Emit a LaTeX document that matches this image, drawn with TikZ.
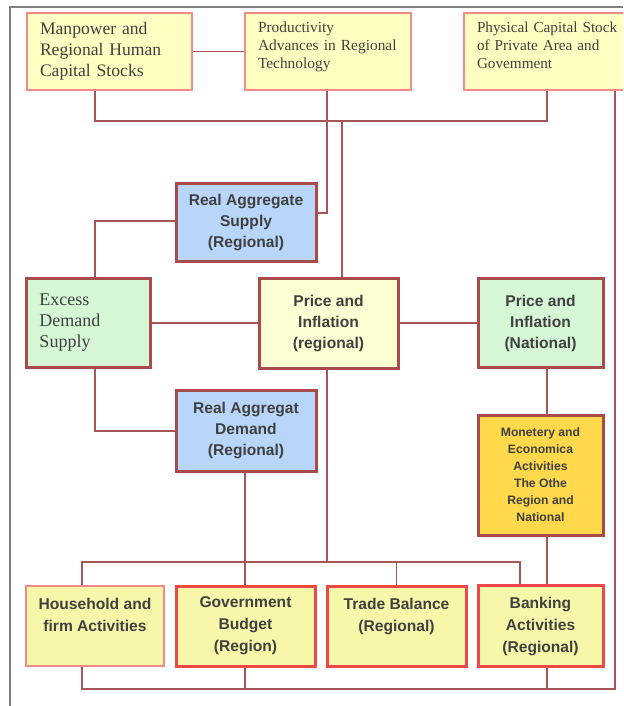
\documentclass[tikz,border=0pt]{standalone}
\usepackage{fontspec}
\setmainfont{Liberation Serif}
\setsansfont{Liberation Sans}
\usepackage{xcolor}
\usepackage{tikz}
\usetikzlibrary{calc}
\definecolor{edgegray}{HTML}{808080}
\definecolor{wire}{HTML}{A65656}
\definecolor{rim}{HTML}{A84B4B}
\definecolor{pinkrim}{HTML}{F28A8A}
\definecolor{redrim}{HTML}{F04848}
\definecolor{ink}{HTML}{404040}
\definecolor{paleyel}{HTML}{FFFFC2}
\definecolor{cream}{HTML}{FFFFD4}
\definecolor{skyblue}{HTML}{B8D6FA}
\definecolor{mint}{HTML}{D6F7D6}
\definecolor{gold}{HTML}{FFD84C}
\definecolor{lemon}{HTML}{F7F7AA}

\begin{document}
\begin{tikzpicture}[x=0.5pt,y=-0.5pt,
 src/.style={draw=pinkrim,line width=1pt,fill=paleyel,text=ink,align=left,inner xsep=6.5pt,inner ysep=0pt,minimum height=38.5pt},
 blk/.style={draw=rim,line width=1.5pt,text=ink,align=center,inner sep=0pt,font=\sffamily\bfseries\fontsize{7.8}{10.5}\selectfont},
 act/.style={draw=redrim,line width=1.5pt,fill=lemon,text=ink,align=center,inner sep=0pt,minimum width=69.5pt,minimum height=40pt,font=\sffamily\bfseries\fontsize{7.8}{11}\selectfont},
 w/.style={draw=wire,line width=0.7pt},
 border/.style={draw=edgegray,line width=0.8pt}]
 \useasboundingbox (0,0) rectangle (623,706);
 \clip (0,0) rectangle (623,706);
 \draw[border] (10,706) -- (10,7) -- (623,7);
 % sources
 \node[src,text width=69.5pt,font=\fontsize{8.8}{10.5}\selectfont] (man) at (109.5,51.5) {Manpower and\\Regional Human\\Capital Stocks};
 \node[src,text width=70pt,font=\fontsize{7.7}{9}\selectfont] (prod) at (328,51.5) {Productivity\\Advances in Regional\\Technology\\[-3pt]\mbox{}};
 \node[src,text width=75pt,font=\fontsize{7.6}{9}\selectfont] (phys) at (552,51.5) {Physical Capital Stock\\of Private Area and\\Govemment\\[-3pt]\mbox{}};
 % market
 \node[blk,fill=skyblue,minimum width=70pt,minimum height=39pt] (ras) at (246,222) {Real Aggregate\\Supply\\(Regional)};
 \node[src,draw=rim,line width=1.3pt,fill=mint,text width=49pt,minimum height=44.5pt,font=\fontsize{9}{10.5}\selectfont] (exc) at (88.5,323) {Excess\\Demand\\Supply};
 \node[blk,fill=cream,minimum width=69.5pt,minimum height=45pt] (pr) at (328.5,323) {Price and\\Inflation\\(regional)};
 \node[blk,fill=mint,minimum width=62.5pt,minimum height=44.5pt] (prn) at (540.5,323) {Price and\\Inflation\\(National)};
 \node[blk,fill=skyblue,minimum width=70pt,minimum height=40.5pt] (rad) at (246,430.5) {Real Aggregat\\Demand\\(Regional)};
 \node[blk,fill=gold,minimum width=62.5pt,minimum height=60pt,font=\sffamily\bfseries\fontsize{6.1}{8.5}\selectfont] (mon) at (540.5,475) {Monetery and\\Economica\\Activities\\The Othe\\Region and\\National};
 % activities
 \node[act,draw=pinkrim,line width=1pt,minimum width=69pt] (hh) at (95,626) {Household and\\firm Activities\\\mbox{}};
 \node[act] (gov) at (245.5,626) {Government\\Budget\\(Region)};
 \node[act] (trd) at (396.5,626) {Trade Balance\\(Regional)\\\mbox{}};
 \node[act,minimum width=62.5pt,minimum height=40.5pt] (bank) at (540.5,626) {Banking\\Activities\\(Regional)};
 % bends
 \coordinate (tA) at (95,121);
 \coordinate (tB) at (547,121);
 \coordinate (tC) at (342,121);
 \coordinate (cP) at (327,213);
 \coordinate (cE) at (95,221);
 \coordinate (cD) at (95,431);
 \coordinate (bL) at (82,562);
 \coordinate (bR) at (520,562);
 \coordinate (bG) at (245,562);
 \coordinate (bP) at (327,562);
 \coordinate (dL) at (82,689);
 \coordinate (dR) at (615,689);
 \coordinate (dB) at (547,689);
 \draw[w] (man.east) -- (prod.west);
 \draw[w] (man.south -| tA) -- (tA) -- (tB) -- (phys.south -| tB);
 \draw[w] (tC) -- (pr.north -| tC);
 \draw[w] (prod.south -| cP) -- (cP) -- (ras.east |- cP);
 \draw[w] (ras.west |- cE) -- (cE) -- (exc.north -| cE);
 \draw[w] (exc.east) -- (pr.west);
 \draw[w] (pr.east) -- (prn.west);
 \draw[w] (exc.south -| cD) -- (cD) -- (rad.west |- cD);
 \draw[w] (rad.south -| bG) -- (gov.north -| bG);
 \draw[w] (pr.south -| bP) -- (bP);
 \draw[w] (hh.north -| bL) -- (bL) -- (bR) -- (bank.north -| bR);
 \draw[w] (trd.north) -- (trd.north |- bL);
 \draw[w] (prn.south -| dB) -- (mon.north -| dB);
 \draw[w] (mon.south -| dB) -- (bank.north -| dB);
 \draw[w] (bank.south -| dB) -- (dB);
 \draw[w] (gov.south -| bG) -- (bG |- dL);
 \draw[w] (hh.south -| dL) -- (dL) -- (dR) -- (phys.south -| dR);
\end{tikzpicture}
\end{document}
